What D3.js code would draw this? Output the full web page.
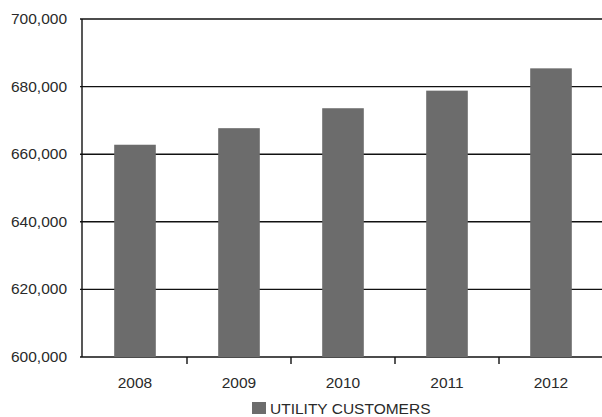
<!DOCTYPE html>
<html>
<head>
<meta charset="utf-8">
<script src="https://cdn.jsdelivr.net/npm/d3@7"></script>
<style>
  body { margin: 0; background: #fff; }
  text { font-family: "Liberation Sans", Arial, sans-serif; fill: #2a2a2a; }
</style>
</head>
<body>
<script>
// values
var years = ["2008", "2009", "2010", "2011", "2012"];
var customers = [662800, 667700, 673600, 678800, 685400];
var yTicks = [600000, 620000, 640000, 660000, 680000, 700000];
var seriesName = "UTILITY CUSTOMERS";

var width = 602, height = 417;

var svg = d3.select("body")
    .append("svg")
    .attr("width", width)
    .attr("height", height);

var x = d3.scaleBand()
    .domain(years)
    .range([83, 603])
    .paddingInner(0.6)
    .paddingOuter(0.3);

var y = d3.scaleLinear()
    .domain([600000, 700000])
    .range([357, 19]);

var fmt = d3.format(",");

// gridlines
svg.append("g")
    .selectAll("line")
    .data(yTicks)
    .enter().append("line")
        .attr("x1", 80)
        .attr("x2", width)
        .attr("y1", function(d) { return y(d); })
        .attr("y2", function(d) { return y(d); })
        .attr("stroke", "#111")
        .attr("stroke-width", 1.4);

// y labels
svg.append("g")
    .selectAll("text")
    .data(yTicks)
    .enter().append("text")
        .attr("x", 67)
        .attr("y", function(d) { return y(d) + 5; })
        .attr("text-anchor", "end")
        .attr("font-size", 15.5)
        .text(function(d) { return fmt(d); });

// bars
svg.append("g")
    .selectAll("rect")
    .data(customers)
    .enter().append("rect")
        .attr("x", function(d, i) { return x(years[i]); })
        .attr("width", x.bandwidth())
        .attr("y", function(d) { return y(d); })
        .attr("height", function(d) { return y.range()[0] - y(d); })
        .attr("fill", "#6c6c6c");

// left axis line
svg.append("line")
    .attr("x1", 82).attr("x2", 82)
    .attr("y1", y.range()[1]).attr("y2", y.range()[0])
    .attr("stroke", "#111")
    .attr("stroke-width", 1.4);

// x axis, ticks between categories
var step = x.step();
var sep = years.slice(1).map(function(d) { return x(d) - step * x.paddingInner() / 2; });

svg.append("g")
    .selectAll("line")
    .data(sep)
    .enter().append("line")
        .attr("x1", function(d) { return d; })
        .attr("x2", function(d) { return d; })
        .attr("y1", y.range()[0])
        .attr("y2", y.range()[0] + 7)
        .attr("stroke", "#111")
        .attr("stroke-width", 1.4);

svg.append("g")
    .selectAll("text")
    .data(years)
    .enter().append("text")
        .attr("x", function(d) { return x(d) + x.bandwidth() / 2; })
        .attr("y", 388)
        .attr("text-anchor", "middle")
        .attr("font-size", 15.5)
        .text(function(d) { return d; });

// legend
var legend = svg.append("g")
    .attr("transform", "translate(252,402)");

legend.append("rect")
    .attr("width", 14)
    .attr("height", 12)
    .attr("fill", "#6c6c6c");

legend.append("text")
    .attr("x", 18)
    .attr("y", 12)
    .attr("font-size", 15.5)
    .text(seriesName);
</script>
</body>
</html>
